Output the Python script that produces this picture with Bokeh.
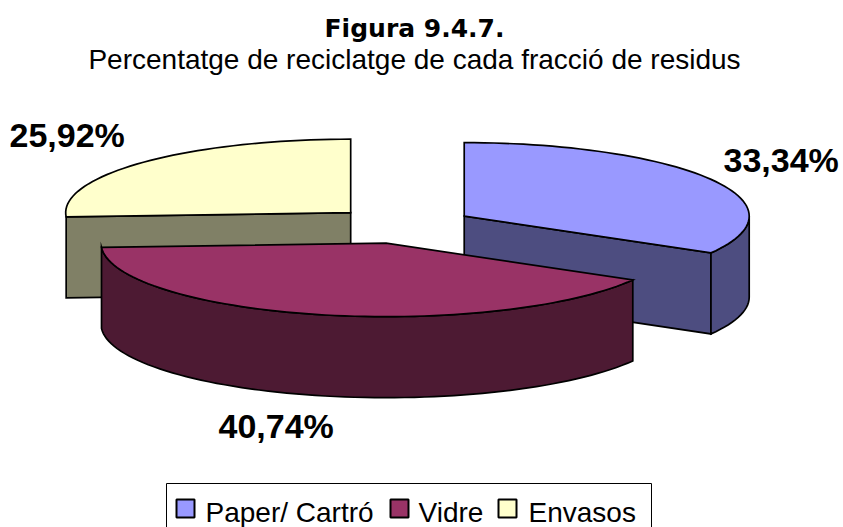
import numpy as np
from bokeh.plotting import figure
from bokeh.models import Range1d
from bokeh.core.properties import value
from bokeh.embed import file_html
from bokeh.resources import INLINE

# data
categories = ["Paper/ Cartró", "Vidre", "Envasos"]
percentages = [33.34, 40.74, 25.92]
top_colors = ["#9999FF", "#993366", "#FFFFCC"]
side_colors = ["#4D4D80", "#4D1A33", "#808066"]
title_text = "Figura 9.4.7."
subtitle_text = "Percentatge de reciclatge de cada fracció de residus"

# projection of the exploded pie (page pixels)
CX, CY = 402.0, 224.8
RX, RY = 285.0, 73.5
DEPTH = 81.0
EXPLODE = 0.25

p = figure(width=843, height=527, x_range=Range1d(0, 843), y_range=Range1d(527, 0),
           output_backend="svg", toolbar_location=None, min_border=0,
           outline_line_color=None, background_fill_color="white",
           border_fill_color="white")
p.xaxis.visible = False
p.yaxis.visible = False
p.grid.visible = False


def arc(cx, cy, t0, t1):
    n = max(2, int(abs(t1 - t0) / 2.0) + 1)
    t = np.radians(np.linspace(t0, t1, n))
    return cx + RX * np.cos(t), cy - RY * np.sin(t)


# slice angles, clockwise from 12 o'clock
angles = []
start = 90.0
for v in percentages:
    sweep = v / sum(percentages) * 360.0
    angles.append((start, start - sweep))
    start -= sweep

centers = []
for t0, t1 in angles:
    mid = np.radians((t0 + t1) / 2)
    centers.append((CX + EXPLODE * RX * np.cos(mid), CY - EXPLODE * RY * np.sin(mid)))


def face(xs, ys, color):
    xs = list(xs) + list(xs)[::-1]
    ys = list(ys) + [y + DEPTH for y in list(ys)[::-1]]
    p.patch(xs, ys, fill_color=color, line_color="black", line_width=1.7, line_join="miter")


def top(i):
    cx, cy = centers[i]
    ax, ay = arc(cx, cy, *angles[i])
    p.patch([cx] + list(ax), [cy] + list(ay), fill_color=top_colors[i],
            line_color="black", line_width=1.7, line_join="miter")


# back-left slice: Envasos (its visible cut face starts at the slice's first angle)
i = 2
cx, cy = centers[i]
ax, ay = arc(cx, cy, angles[i][0], angles[i][0])
face([ax[0], cx], [ay[0], cy], side_colors[i])
top(i)

# right slice: Paper
i = 0
cx, cy = centers[i]
ax, ay = arc(cx, cy, angles[i][1], angles[i][1])
face([cx, ax[0]], [cy, ay[0]], side_colors[i])
rx, ry = arc(cx, cy, 0, angles[i][1])
face(rx, ry, side_colors[i])
top(i)

# front slice: Vidre
i = 1
cx, cy = centers[i]
fx, fy = arc(cx, cy, angles[i][0], angles[i][1])
face(fx, fy, side_colors[i])
top(i)

# data labels
label_x = [723, 218, 9]
label_y = [159, 425, 134]
labels = [f"{v:.2f}".replace(".", ",") + "%" for v in percentages]
p.text(label_x, label_y, text=labels, text_font=value("Liberation Sans"),
       text_font_style="bold", text_font_size="34px", text_color="black",
       text_baseline="alphabetic", text_align="left")

# titles
p.text([414], [28], text=[title_text], text_font=value("DejaVu Sans"), text_font_style="bold",
       text_font_size="25px", text_align="center", text_baseline="alphabetic", text_color="black")
p.text([414], [59], text=[subtitle_text], text_font=value("Liberation Sans"),
       text_font_size="28px", text_align="center", text_baseline="alphabetic", text_color="black")

# legend (its box runs off the bottom of the picture)
p.quad(left=[166], right=[651], top=[483], bottom=[560], fill_color="white",
       line_color="black", line_width=1)
swatch_x = [176, 390, 498]
p.quad(left=swatch_x, right=[x + 18 for x in swatch_x], top=[499] * 3, bottom=[517] * 3,
       fill_color=top_colors, line_color="black", line_width=2)
p.text([205, 418, 528], [512] * 3, text=categories, text_font=value("Liberation Sans"),
       text_font_size="28px", text_baseline="alphabetic", text_color="black")

open("out.html", "w").write(file_html(p, INLINE))
